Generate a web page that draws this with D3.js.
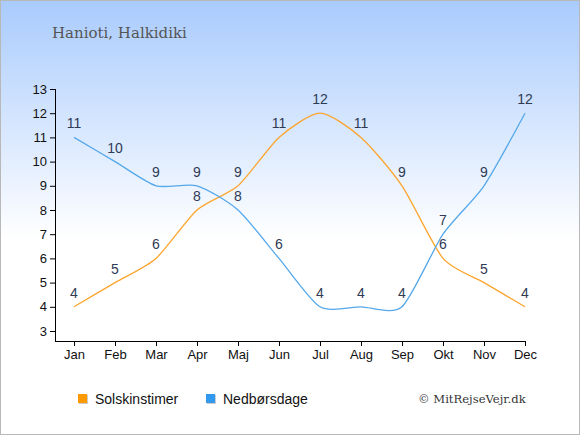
<!DOCTYPE html>
<html>
<head>
<meta charset="utf-8">
<script src="https://cdnjs.cloudflare.com/ajax/libs/d3/7.8.5/d3.min.js"></script>
<style>
  body { margin: 0; }
  #chart { width: 580px; height: 435px; }
</style>
</head>
<body>
<div id="chart"></div>
<script>
const months = ["Jan", "Feb", "Mar", "Apr", "Maj", "Jun", "Jul", "Aug", "Sep", "Okt", "Nov", "Dec"];
const sunHours = [4, 5, 6, 8, 9, 11, 12, 11, 9, 6, 5, 4];
const rainDays = [11, 10, 9, 9, 8, 6, 4, 4, 4, 7, 9, 12];
const yTicks = [3, 4, 5, 6, 7, 8, 9, 10, 11, 12, 13];

let width = 580;
let height = 435;

const svg = d3.select("#chart").append("svg")
    .attr("width", width)
    .attr("height", height);

// background gradient
const defs = svg.append("defs");
const grad = defs.append("linearGradient")
    .attr("id", "bg")
    .attr("x1", 0).attr("y1", 0).attr("x2", 0).attr("y2", 1);
grad.append("stop").attr("offset", "0%").attr("stop-color", "#a9cbfd");
grad.append("stop").attr("offset", "55%").attr("stop-color", "#ffffff");
grad.append("stop").attr("offset", "100%").attr("stop-color", "#ffffff");

svg.append("rect")
    .attr("x", 0.5).attr("y", 0.5)
    .attr("width", width - 1).attr("height", height - 1)
    .attr("fill", "url(#bg)")
    .attr("stroke", "#b8b8b8");

// title
svg.append("text")
    .attr("x", 52)
    .attr("y", 38)
    .attr("font-family", "DejaVu Serif, Georgia, serif")
    .attr("font-size", 15)
    .attr("fill", "#555")
    .text("Hanioti, Halkidiki");

// scales
const xScale = d3.scalePoint()
    .domain(months)
    .range([74, 525]);

const yScale = d3.scaleLinear()
    .domain([3, 13])
    .range([331, 89]);

// axes
const xAxis = d3.axisBottom(xScale).tickSizeOuter(0).tickSize(5).tickPadding(4);
const yAxis = d3.axisLeft(yScale).tickValues(yTicks).tickSizeOuter(0).tickSize(5).tickPadding(3);

const gx = svg.append("g")
    .attr("transform", "translate(0, 341)")
    .call(xAxis);
gx.select(".domain").attr("d", "M55,0.5H526");

const gy = svg.append("g")
    .attr("transform", "translate(55, 0)")
    .call(yAxis);
gy.select(".domain").attr("d", "M0.5,89V341");

svg.selectAll(".tick text")
    .attr("font-family", "Liberation Sans, Arial, sans-serif")
    .attr("font-size", 13)
    .attr("fill", "#111");

// lines
const line = d3.line()
    .x((d, i) => xScale(months[i]))
    .y(d => yScale(d))
    .curve(d3.curveCardinal.tension(0.3));

const series = [
    {name: "Solskinstimer", values: sunHours, color: "#fca52e"},
    {name: "Nedbørsdage", values: rainDays, color: "#55a8ea"}
];

series.forEach(s => {
    svg.append("path")
        .datum(s.values)
        .attr("d", line)
        .attr("fill", "none")
        .attr("stroke", s.color)
        .attr("stroke-width", 1.3);
});

// value labels
series.forEach(s => {
    svg.append("g").selectAll("text")
        .data(s.values)
        .enter()
        .append("text")
        .attr("x", (d, i) => xScale(months[i]))
        .attr("y", d => yScale(d) - 9)
        .attr("text-anchor", "middle")
        .attr("font-family", "Liberation Sans, Arial, sans-serif")
        .attr("font-size", 14)
        .attr("fill", "#2f3a55")
        .text(d => d);
});

// legend
const legendItems = [
    {name: "Solskinstimer", color: "#ff9900", x: 78},
    {name: "Nedbørsdage", color: "#3399ee", x: 206}
];
const legend = svg.append("g");
legend.selectAll("rect.shadow")
    .data(legendItems)
    .enter()
    .append("rect")
    .attr("x", d => d.x + 1)
    .attr("y", 395)
    .attr("width", 9)
    .attr("height", 9)
    .attr("fill", "#ccc");
legend.selectAll("rect.box")
    .data(legendItems)
    .enter()
    .append("rect")
    .attr("x", d => d.x)
    .attr("y", 394)
    .attr("width", 9)
    .attr("height", 9)
    .attr("fill", d => d.color);
legend.selectAll("text")
    .data(legendItems)
    .enter()
    .append("text")
    .attr("x", d => d.x + 17)
    .attr("y", 404)
    .attr("font-family", "Liberation Sans, Arial, sans-serif")
    .attr("font-size", 14)
    .attr("fill", "#111")
    .text(d => d.name);

svg.append("text")
    .attr("x", 418)
    .attr("y", 403)
    .attr("font-family", "DejaVu Serif, Georgia, serif")
    .attr("font-size", 11.6)
    .attr("fill", "#333")
    .text("© MitRejseVejr.dk");
</script>
</body>
</html>
